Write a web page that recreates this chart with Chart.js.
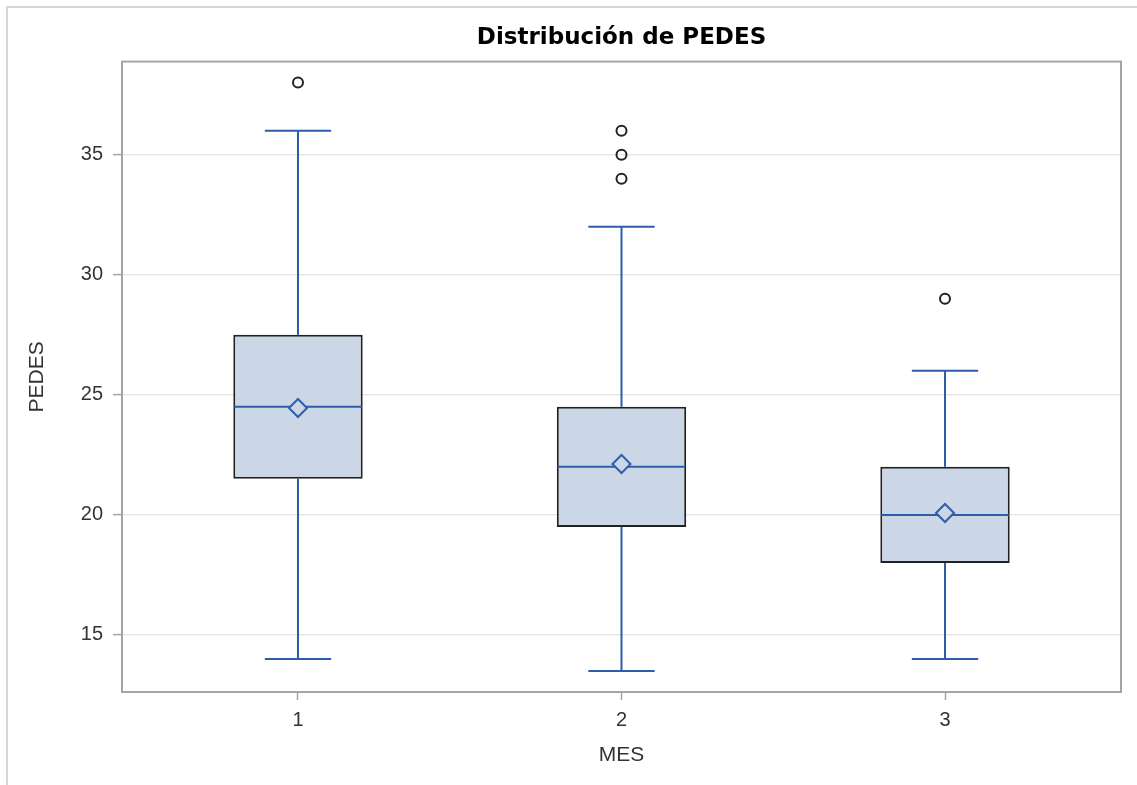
<!DOCTYPE html>
<html>
<head>
<meta charset="utf-8">
<title>Distribución de PEDES</title>
<script src="https://cdn.jsdelivr.net/npm/chart.js@4.4.1/dist/chart.umd.min.js"></script>
<style>
  html, body { margin: 0; padding: 0; background: #fff; }
  #wrap { position: relative; width: 1137px; height: 785px; overflow: hidden; }
  #frame { position: absolute; left: 6px; top: 6px; right: -4px; bottom: -4px;
           border-left: 2px solid #d6d6d6; border-top: 2px solid #d6d6d6; }
  canvas { position: absolute; left: 0; top: 0; }
</style>
</head>
<body>
<div id="wrap">
  <div id="frame"></div>
  <canvas id="chart" width="1137" height="785"></canvas>
</div>
<script>
// valores (MES 1..3)
const months = ['1', '2', '3'];
const whiskerLow = [14, 13.5, 14];
const q1 = [21.5, 19.5, 18];
const medians = [24.5, 22, 20];
const q3 = [27.5, 24.5, 22];
const whiskerHigh = [36, 32, 26];
const means = [24.45, 22.12, 20.08];
const outliers = [[38], [36, 35, 34], [29]];
const yTicks = [15, 20, 25, 30, 35];

const BLUE = '#2f5cab';
const BOX_FILL = '#cbd6e6';
const CAP = 0.205; // ancho de los topes, en unidades del eje x

Chart.defaults.font.family = '"Liberation Sans", Arial, sans-serif';
Chart.defaults.color = '#333';

const boxPlugin = {
  id: 'boxWhiskers',
  beforeDatasetsDraw(chart) {
    const { ctx, scales: { x, y } } = chart;
    ctx.save();
    ctx.strokeStyle = BLUE;
    ctx.lineWidth = 2;
    months.forEach((m, i) => {
      const cx = x.getPixelForValue(i + 1);
      const half = x.getPixelForValue(i + 1 + CAP / 2) - cx;
      const yHi = y.getPixelForValue(whiskerHigh[i]);
      const yLo = y.getPixelForValue(whiskerLow[i]);
      ctx.beginPath();
      ctx.moveTo(cx, yHi); ctx.lineTo(cx, y.getPixelForValue(q3[i]));
      ctx.moveTo(cx, y.getPixelForValue(q1[i])); ctx.lineTo(cx, yLo);
      ctx.moveTo(cx - half, yHi); ctx.lineTo(cx + half, yHi);
      ctx.moveTo(cx - half, yLo); ctx.lineTo(cx + half, yLo);
      ctx.stroke();
    });
    ctx.restore();
  },
  afterDatasetDraw(chart, args) {
    if (args.index !== 0) return;
    const { ctx, scales: { y } } = chart;
    const meta = chart.getDatasetMeta(0);
    ctx.save();
    ctx.strokeStyle = BLUE;
    ctx.lineWidth = 2;
    meta.data.forEach((bar, i) => {
      const ym = y.getPixelForValue(medians[i]);
      ctx.beginPath();
      ctx.moveTo(bar.x - bar.width / 2 + 1, ym);
      ctx.lineTo(bar.x + bar.width / 2 - 1, ym);
      ctx.stroke();
    });
    ctx.restore();
  },
  afterDraw(chart) {
    const { ctx, chartArea: a } = chart;
    ctx.save();
    ctx.strokeStyle = '#a2a6a9';
    ctx.lineWidth = 2;
    ctx.strokeRect(a.left, a.top, a.right - a.left, a.bottom - a.top);
    ctx.restore();
  }
};

new Chart(document.getElementById('chart'), {
  type: 'bar',
  data: {
    datasets: [
      {
        type: 'bar',
        data: months.map((m, i) => ({ x: i + 1, y: [q1[i], q3[i]] })),
        backgroundColor: BOX_FILL,
        borderColor: '#222',
        borderWidth: 2,
        borderSkipped: false,
        barPercentage: 0.4,
        categoryPercentage: 1,
        order: 3
      },
      {
        type: 'scatter',
        data: months.map((m, i) => ({ x: i + 1, y: means[i] })),
        pointStyle: 'rectRot',
        pointRadius: 9,
        borderWidth: 2,
        borderColor: BLUE,
        backgroundColor: BOX_FILL,
        order: 1
      },
      {
        type: 'scatter',
        data: outliers.flatMap((vals, i) => vals.map(v => ({ x: i + 1, y: v }))),
        pointStyle: 'circle',
        pointRadius: 5,
        borderWidth: 2,
        borderColor: '#222',
        backgroundColor: 'rgba(0,0,0,0)',
        order: 2
      }
    ]
  },
  options: {
    responsive: false,
    animation: false,
    events: [],
    layout: { padding: { left: 0, top: 0, right: 16, bottom: 0 } },
    plugins: {
      legend: { display: false },
      tooltip: { enabled: false },
      title: {
        display: true,
        fullSize: false,
        text: 'Distribución de PEDES',
        color: '#000',
        font: { family: '"DejaVu Sans", sans-serif', size: 23, weight: 'bold' },
        padding: { top: 24, bottom: 10 }
      }
    },
    scales: {
      x: {
        type: 'linear',
        offset: false,
        min: 0.456,
        max: 3.544,
        afterBuildTicks: s => { s.ticks = months.map((m, i) => ({ value: i + 1 })); },
        afterFit: s => { s.height = 93; },
        ticks: { callback: v => months[v - 1], font: { size: 20 }, color: '#333', padding: 8 },
        grid: { offset: false, drawOnChartArea: false, tickLength: 8, tickColor: '#a2a6a9', tickWidth: 1.5 },
        border: { display: false },
        title: { display: true, text: 'MES', font: { size: 21 }, color: '#333', padding: { top: 0, bottom: 17 } }
      },
      y: {
        type: 'linear',
        min: 12.625,
        max: 38.875,
        afterBuildTicks: s => { s.ticks = yTicks.map(v => ({ value: v })); },
        afterFit: s => { s.width = 122; },
        ticks: { font: { size: 20 }, color: '#333', padding: 10 },
        grid: { color: '#e4e4e4', lineWidth: 1.2, tickLength: 9, tickColor: '#a2a6a9', tickWidth: 1.5 },
        border: { display: false },
        title: { display: true, text: 'PEDES', font: { size: 21 }, color: '#333', padding: { top: 25, bottom: 0 } }
      }
    }
  },
  plugins: [boxPlugin]
});
</script>
</body>
</html>
